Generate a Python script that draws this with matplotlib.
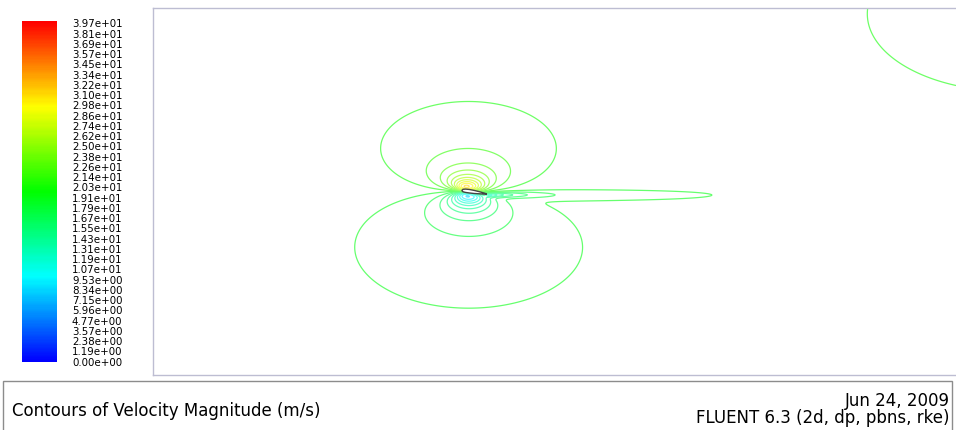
import numpy as np
import matplotlib
matplotlib.use('Agg')
import matplotlib.pyplot as plt
from matplotlib.colors import LinearSegmentedColormap, to_rgb
from matplotlib.patches import Rectangle, Polygon

# colour scale labels, top to bottom (m/s)
scale_labels = ['3.97e+01', '3.81e+01', '3.69e+01', '3.57e+01', '3.45e+01', '3.34e+01',
                '3.22e+01', '3.10e+01', '2.98e+01', '2.86e+01', '2.74e+01', '2.62e+01',
                '2.50e+01', '2.38e+01', '2.26e+01', '2.14e+01', '2.03e+01', '1.91e+01',
                '1.79e+01', '1.67e+01', '1.55e+01', '1.43e+01', '1.31e+01', '1.19e+01',
                '1.07e+01', '9.53e+00', '8.34e+00', '7.15e+00', '5.96e+00', '4.77e+00',
                '3.57e+00', '2.38e+00', '1.19e+00', '0.00e+00']
levels = np.array([float(s) for s in scale_labels[::-1]])

# flow around the section, lengths in chords (y stretched like the screen)
u_inf = 19.6
lift_k = 7.9
lift_power = 2.3
lift_core = 0.35
load_x = [0.05, 0.25, 0.5, 0.75]
load_y = [-0.0125, -0.0625, -0.125, -0.1875]
load_w = [0.4, 0.3, 0.2, 0.1]
te_x = 1.0
wake_amp = [5.74, 1.02]
wake_len = [1.37, 12.0]
wake_sigma0 = 0.15
wake_growth = 0.07
wake_y = -0.3
bump_x, bump_y = 21.96, 12.6
bump_amp, bump_r = 1.69, 4.0

# section outline
airfoil_x = [0, 0.05, 0.15, 0.3, 0.5, 0.7, 0.9, 1.0]
airfoil_upper = [0, 0.0875, 0.1025, 0.075, 0.005, -0.085, -0.185, -0.25]
airfoil_lower = [0, -0.0925, -0.1375, -0.175, -0.215, -0.235, -0.255, -0.25]

xlim = (-12.36, 19.76)
ylim = (-13.16, 13.04)

x = np.linspace(xlim[0], xlim[1], 1500)
y = np.linspace(ylim[0], ylim[1], 1200)
X, Y = np.meshgrid(x, y)

speed = np.full_like(X, u_inf)
for xs, ys, w in zip(load_x, load_y, load_w):
    dy = Y - ys
    r2 = (X - xs) ** 2 + dy ** 2 + lift_core ** 2
    speed += lift_k * w * dy / r2 ** (lift_power / 2)

s = X - te_x
on = 0.5 * (1 + np.tanh(s / 0.1))
sp = np.clip(s, 0, None)
amp = sum(a * np.exp(-sp / l) for a, l in zip(wake_amp, wake_len))
sig = wake_sigma0 + wake_growth * sp
speed -= on * amp * np.exp(-((Y - wake_y) / sig) ** 2)
speed += bump_amp * np.exp(-((X - bump_x) ** 2 + (Y - bump_y) ** 2) / (2 * bump_r ** 2))

cmap = LinearSegmentedColormap.from_list(
    'fluent', ['#0000ff', '#00ffff', '#00ff00', '#ffff00', '#ff0000'])
n = len(levels) - 1
# thin screen lines come out paler than the scale
line_colors = [tuple(0.6 * c + 0.4 for c in to_rgb(cmap(i / n))) for i in range(len(levels))]

W, H = 956, 431
fig = plt.figure(figsize=(W / 100, H / 100), dpi=100)
fig.patch.set_facecolor('white')

ax = fig.add_axes([152.7 / W, 1 - 375.7 / H, 1 - 152.7 / W, (375.7 - 9) / H])
ax.contour(X, Y, speed, levels=levels, colors=line_colors, linewidths=0.9)
outline = list(zip(airfoil_x, airfoil_upper)) + list(zip(airfoil_x[::-1], airfoil_lower[::-1]))
ax.add_patch(Polygon(outline, closed=True, facecolor='white', edgecolor='#444444',
                     lw=1.0, zorder=3))
ax.set_xlim(*xlim)
ax.set_ylim(*ylim)
ax.set_xticks([])
ax.set_yticks([])
for side in ['left', 'top', 'bottom']:
    ax.spines[side].set_color('#bdbdd2')
    ax.spines[side].set_linewidth(1.0)
ax.spines['right'].set_visible(False)

# colour bar
cax = fig.add_axes([21.7 / W, 1 - 362.7 / H, 35 / W, 340.7 / H])
cax.imshow(np.linspace(1, 0, 300).reshape(-1, 1), aspect='auto', cmap=cmap,
           interpolation='nearest')
cax.axis('off')
for i, lab in enumerate(scale_labels):
    fig.text(72 / W, 1 - (24.3 + i * 10.25) / H, lab, ha='left', va='center',
             fontsize=7.4, family='DejaVu Sans', color='black')

# title box
fig.patches.append(Rectangle((3 / W, -0.05), 949 / W, 0.05 + 1 - 382 / H,
                             transform=fig.transFigure, fill=False,
                             edgecolor='#8c8c8c', lw=1.0))
fig.text(12 / W, 1 - 411 / H, 'Contours of Velocity Magnitude (m/s)', ha='left',
         va='center', fontsize=12, family='DejaVu Sans')
fig.text(950 / W, 1 - 401 / H, 'Jun 24, 2009', ha='right', va='center',
         fontsize=12, family='DejaVu Sans')
fig.text(950 / W, 1 - 418 / H, 'FLUENT 6.3 (2d, dp, pbns, rke)', ha='right',
         va='center', fontsize=12, family='DejaVu Sans')

fig.savefig('out.png', dpi=100)
